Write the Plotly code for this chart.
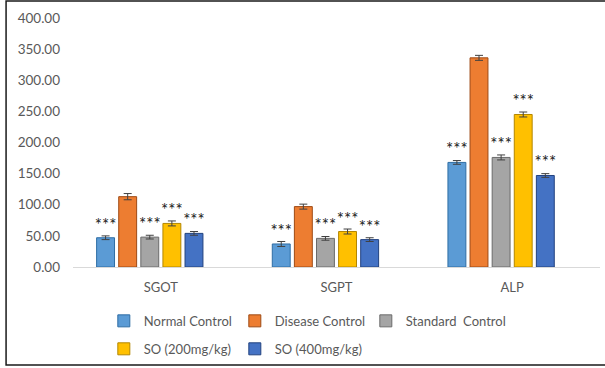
import plotly.graph_objects as go

categories = ["SGOT", "SGPT", "ALP"]
groups = ["Normal Control", "Disease Control", "Standard  Control", "SO (200mg/kg)", "SO (400mg/kg)"]
normal_control = [47, 37, 168]
disease_control = [113, 97, 336]
standard_control = [48, 46, 176]
so_200 = [70, 57, 245]
so_400 = [54, 44, 147]
err_normal = [3, 4, 3]
err_disease = [5, 4, 4]
err_standard = [3, 3, 4]
err_so200 = [4, 4, 4]
err_so400 = [3, 3, 3]
stars_normal = ["***", "***", "***"]
stars_disease = ["", "", ""]
stars_standard = ["***", "***", "***"]
stars_so200 = ["***", "***", "***"]
stars_so400 = ["***", "***", "***"]
y_ticks = [0, 50, 100, 150, 200, 250, 300, 350, 400]

colors = ["#5B9BD5", "#ED7D31", "#A5A5A5", "#FFC000", "#4472C4"]
edge = ["#2E6DA4", "#9E4A14", "#6B6B6B", "#B38600", "#22427F"]
values = [normal_control, disease_control, standard_control, so_200, so_400]
errors = [err_normal, err_disease, err_standard, err_so200, err_so400]
stars = [stars_normal, stars_disease, stars_standard, stars_so200, stars_so400]
legends = ["legend", "legend", "legend", "legend2", "legend2"]

FONT = "Lato"
fig = go.Figure()
for name, vals, errs, st, c, e, lg in zip(groups, values, errors, stars, colors, edge, legends):
    fig.add_trace(go.Bar(
        x=categories, y=vals, name=name,
        marker=dict(color=c, line=dict(color=e, width=1)),
        error_y=dict(type="data", array=errs, color="#404040", thickness=1, width=4),
        text=st, textposition="outside", constraintext="none", cliponaxis=False,
        textfont=dict(family=FONT, size=17, color="#1a1a1a"),
        legend=lg,
    ))
# invisible spacer entry so the last legend label is not clipped
fig.add_trace(go.Bar(x=[None], y=[None], name=" ", legend="legend", hoverinfo="skip",
                     marker=dict(color="rgba(0,0,0,0)", line=dict(width=0))))

leg_common = dict(orientation="h", xref="container", yref="container",
                  x=0.1716, xanchor="left", yanchor="middle",
                  entrywidth=86, entrywidthmode="pixels", itemwidth=30,
                  font=dict(family=FONT, size=13, color="#595959"))

fig.update_layout(
    width=605, height=368,
    margin=dict(l=73, r=5, t=18, b=101, autoexpand=False),
    paper_bgcolor="white", plot_bgcolor="white",
    barmode="group", bargap=0.245, bargroupgap=0.19,
    font=dict(family=FONT, size=13, color="#595959"),
    showlegend=True,
    legend=dict(leg_common, y=0.128),
    legend2=dict(leg_common, y=0.052),
    xaxis=dict(showline=True, linecolor="#D9D9D9", linewidth=1, ticks="",
               ticklabelstandoff=8,
               tickfont=dict(family=FONT, size=13, color="#595959")),
    yaxis=dict(range=[0, 400], tickvals=y_ticks, tickformat=".2f", showgrid=False,
               zeroline=False, showline=False, ticks="", ticklabelstandoff=12,
               tickfont=dict(family=FONT, size=13.5, color="#595959")),
    shapes=[dict(type="rect", xref="paper", yref="paper",
                 x0=-0.127, x1=1.06, y0=-0.394, y1=1.068,
                 line=dict(color="#1a1a1a", width=1.5), fillcolor="rgba(0,0,0,0)")],
)

fig.write_html("out.html", config={"displayModeBar": False},
               post_script="document.body.style.margin='0';")
